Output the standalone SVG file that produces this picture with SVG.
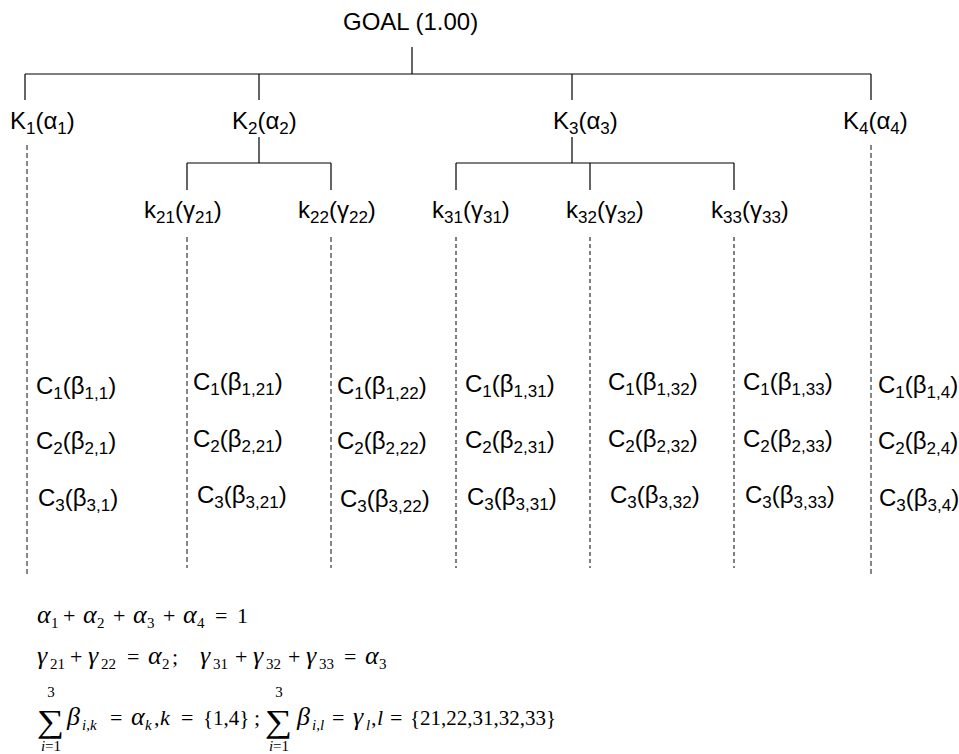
<svg xmlns="http://www.w3.org/2000/svg" width="959" height="754" viewBox="0 0 959 754">
<style>
.lbl{font-family:"Liberation Sans",Arial,sans-serif;font-size:24px;fill:#000}
.goal{font-family:"Liberation Sans",Arial,sans-serif;font-size:24px;fill:#000}
.s{font-size:17px}
.tree{stroke:#000;stroke-width:1.2;fill:none}
.dg{stroke:#555;stroke-width:1.4;stroke-dasharray:5,3;fill:none}
.dk{stroke:#000;stroke-width:1;stroke-dasharray:4,3;fill:none}
.m{font-family:"Liberation Serif","Times New Roman",serif;font-size:22px;fill:#000}
.g{font-style:italic;font-size:26px}
.i{font-style:italic}
.ms{font-size:15px}
.set{font-size:21px}
.sig{font-family:"Liberation Serif","Times New Roman",serif;font-size:32px;fill:#000}
</style>
<g id="connectors">
<path class="tree" d="M412,47 V74 M25,74 H871 M25,74 V100 M259,74 V100 M572,74 V100 M871,74 V100"/>
<path class="tree" d="M259,137 V163 M187,163 H331 M187,163 V190 M331,163 V190"/>
<path class="tree" d="M572,137 V163 M456,163 H734 M456,163 V190 M590,163 V190 M734,163 V190"/>
<path class="dg" d="M27,145 V575 M871,145 V575 M187,237 V568 M331,237 V568"/>
<path class="dk" d="M456,237 V568 M590,237 V568 M734,237 V568"/>
</g>
<g id="goal"><text class="goal" x="343" y="30">GOAL (1.00)</text></g>
<g id="K1"><text class="lbl" x="10" y="129">K<tspan class="s" dy="5">1</tspan><tspan dy="-5">(α</tspan><tspan class="s" dy="5">1</tspan><tspan dy="-5">)</tspan></text></g>
<g id="K2"><text class="lbl" x="232" y="129">K<tspan class="s" dy="5">2</tspan><tspan dy="-5">(α</tspan><tspan class="s" dy="5">2</tspan><tspan dy="-5">)</tspan></text></g>
<g id="K3"><text class="lbl" x="553" y="129">K<tspan class="s" dy="5">3</tspan><tspan dy="-5">(α</tspan><tspan class="s" dy="5">3</tspan><tspan dy="-5">)</tspan></text></g>
<g id="K4"><text class="lbl" x="843" y="129">K<tspan class="s" dy="5">4</tspan><tspan dy="-5">(α</tspan><tspan class="s" dy="5">4</tspan><tspan dy="-5">)</tspan></text></g>
<g id="k21"><text class="lbl" x="144" y="218">k<tspan class="s" dy="5">21</tspan><tspan dy="-5">(γ</tspan><tspan class="s" dy="5">21</tspan><tspan dy="-5">)</tspan></text></g>
<g id="k22"><text class="lbl" x="298" y="218">k<tspan class="s" dy="5">22</tspan><tspan dy="-5">(γ</tspan><tspan class="s" dy="5">22</tspan><tspan dy="-5">)</tspan></text></g>
<g id="k31"><text class="lbl" x="432" y="218">k<tspan class="s" dy="5">31</tspan><tspan dy="-5">(γ</tspan><tspan class="s" dy="5">31</tspan><tspan dy="-5">)</tspan></text></g>
<g id="k32"><text class="lbl" x="566" y="218">k<tspan class="s" dy="5">32</tspan><tspan dy="-5">(γ</tspan><tspan class="s" dy="5">32</tspan><tspan dy="-5">)</tspan></text></g>
<g id="k33"><text class="lbl" x="711" y="218">k<tspan class="s" dy="5">33</tspan><tspan dy="-5">(γ</tspan><tspan class="s" dy="5">33</tspan><tspan dy="-5">)</tspan></text></g>
<g id="C_1">
<text class="lbl" x="36" y="394">C<tspan class="s" dy="5">1</tspan><tspan dy="-5">(β</tspan><tspan class="s" dy="5">1,1</tspan><tspan dy="-5">)</tspan></text>
<text class="lbl" x="36" y="449">C<tspan class="s" dy="5">2</tspan><tspan dy="-5">(β</tspan><tspan class="s" dy="5">2,1</tspan><tspan dy="-5">)</tspan></text>
<text class="lbl" x="38" y="506">C<tspan class="s" dy="5">3</tspan><tspan dy="-5">(β</tspan><tspan class="s" dy="5">3,1</tspan><tspan dy="-5">)</tspan></text>
</g>
<g id="C_21">
<text class="lbl" x="193" y="390">C<tspan class="s" dy="5">1</tspan><tspan dy="-5">(β</tspan><tspan class="s" dy="5">1,21</tspan><tspan dy="-5">)</tspan></text>
<text class="lbl" x="193" y="447">C<tspan class="s" dy="5">2</tspan><tspan dy="-5">(β</tspan><tspan class="s" dy="5">2,21</tspan><tspan dy="-5">)</tspan></text>
<text class="lbl" x="197" y="503">C<tspan class="s" dy="5">3</tspan><tspan dy="-5">(β</tspan><tspan class="s" dy="5">3,21</tspan><tspan dy="-5">)</tspan></text>
</g>
<g id="C_22">
<text class="lbl" x="337" y="394">C<tspan class="s" dy="5">1</tspan><tspan dy="-5">(β</tspan><tspan class="s" dy="5">1,22</tspan><tspan dy="-5">)</tspan></text>
<text class="lbl" x="337" y="449">C<tspan class="s" dy="5">2</tspan><tspan dy="-5">(β</tspan><tspan class="s" dy="5">2,22</tspan><tspan dy="-5">)</tspan></text>
<text class="lbl" x="340" y="507">C<tspan class="s" dy="5">3</tspan><tspan dy="-5">(β</tspan><tspan class="s" dy="5">3,22</tspan><tspan dy="-5">)</tspan></text>
</g>
<g id="C_31">
<text class="lbl" x="465" y="392">C<tspan class="s" dy="5">1</tspan><tspan dy="-5">(β</tspan><tspan class="s" dy="5">1,31</tspan><tspan dy="-5">)</tspan></text>
<text class="lbl" x="465" y="448">C<tspan class="s" dy="5">2</tspan><tspan dy="-5">(β</tspan><tspan class="s" dy="5">2,31</tspan><tspan dy="-5">)</tspan></text>
<text class="lbl" x="467" y="505">C<tspan class="s" dy="5">3</tspan><tspan dy="-5">(β</tspan><tspan class="s" dy="5">3,31</tspan><tspan dy="-5">)</tspan></text>
</g>
<g id="C_32">
<text class="lbl" x="608" y="390">C<tspan class="s" dy="5">1</tspan><tspan dy="-5">(β</tspan><tspan class="s" dy="5">1,32</tspan><tspan dy="-5">)</tspan></text>
<text class="lbl" x="608" y="447">C<tspan class="s" dy="5">2</tspan><tspan dy="-5">(β</tspan><tspan class="s" dy="5">2,32</tspan><tspan dy="-5">)</tspan></text>
<text class="lbl" x="610" y="503">C<tspan class="s" dy="5">3</tspan><tspan dy="-5">(β</tspan><tspan class="s" dy="5">3,32</tspan><tspan dy="-5">)</tspan></text>
</g>
<g id="C_33">
<text class="lbl" x="743" y="390">C<tspan class="s" dy="5">1</tspan><tspan dy="-5">(β</tspan><tspan class="s" dy="5">1,33</tspan><tspan dy="-5">)</tspan></text>
<text class="lbl" x="743" y="447">C<tspan class="s" dy="5">2</tspan><tspan dy="-5">(β</tspan><tspan class="s" dy="5">2,33</tspan><tspan dy="-5">)</tspan></text>
<text class="lbl" x="745" y="503">C<tspan class="s" dy="5">3</tspan><tspan dy="-5">(β</tspan><tspan class="s" dy="5">3,33</tspan><tspan dy="-5">)</tspan></text>
</g>
<g id="C_4">
<text class="lbl" x="878" y="393">C<tspan class="s" dy="5">1</tspan><tspan dy="-5">(β</tspan><tspan class="s" dy="5">1,4</tspan><tspan dy="-5">)</tspan></text>
<text class="lbl" x="878" y="449">C<tspan class="s" dy="5">2</tspan><tspan dy="-5">(β</tspan><tspan class="s" dy="5">2,4</tspan><tspan dy="-5">)</tspan></text>
<text class="lbl" x="879" y="506">C<tspan class="s" dy="5">3</tspan><tspan dy="-5">(β</tspan><tspan class="s" dy="5">3,4</tspan><tspan dy="-5">)</tspan></text>
</g>
<g id="formulas">
<text class="m"><tspan class="g" x="37" y="623">α</tspan><tspan class="ms" x="51" y="628">1</tspan><tspan x="63" y="623">+</tspan><tspan class="g" x="83" y="623">α</tspan><tspan class="ms" x="97" y="628">2</tspan><tspan x="113" y="623">+</tspan><tspan class="g" x="133" y="623">α</tspan><tspan class="ms" x="147" y="628">3</tspan><tspan x="163" y="623">+</tspan><tspan class="g" x="183" y="623">α</tspan><tspan class="ms" x="197" y="628">4</tspan><tspan x="215" y="623">=</tspan><tspan x="237" y="623">1</tspan></text>
<text class="m"><tspan class="g" x="37" y="664">γ</tspan><tspan class="ms" x="50" y="669">21</tspan><tspan x="70" y="664">+</tspan><tspan class="g" x="88" y="664">γ</tspan><tspan class="ms" x="101" y="669">22</tspan><tspan x="127" y="664">=</tspan><tspan class="g" x="148" y="664">α</tspan><tspan class="ms" x="162" y="669">2</tspan><tspan x="172" y="664">;</tspan><tspan class="g" x="200" y="664">γ</tspan><tspan class="ms" x="213" y="669">31</tspan><tspan x="235" y="664">+</tspan><tspan class="g" x="253" y="664">γ</tspan><tspan class="ms" x="266" y="669">32</tspan><tspan x="288" y="664">+</tspan><tspan class="g" x="306" y="664">γ</tspan><tspan class="ms" x="319" y="669">33</tspan><tspan x="344" y="664">=</tspan><tspan class="g" x="365" y="664">α</tspan><tspan class="ms" x="379" y="669">3</tspan></text>
<text class="sig" transform="translate(37,732) scale(1.2,1)">∑</text>
<text class="m ms" x="51" y="697" text-anchor="middle">3</text>
<text class="m ms" x="51" y="751" text-anchor="middle"><tspan class="i">i</tspan>=1</text>
<text class="m"><tspan class="g" x="67" y="725">β</tspan><tspan class="ms" x="82" y="730"><tspan class="i">i</tspan>,<tspan class="i">k</tspan></tspan><tspan x="110" y="725">=</tspan><tspan class="g" x="131" y="725">α</tspan><tspan class="ms i" x="145" y="730">k</tspan><tspan x="154" y="725">,</tspan><tspan class="i" x="160" y="725">k</tspan><tspan x="181" y="725">=</tspan><tspan class="set" x="203" y="725">{1,4}</tspan><tspan x="254" y="725">;</tspan></text>
<text class="sig" transform="translate(265,732) scale(1.2,1)">∑</text>
<text class="m ms" x="279" y="697" text-anchor="middle">3</text>
<text class="m ms" x="279" y="751" text-anchor="middle"><tspan class="i">i</tspan>=1</text>
<text class="m"><tspan class="g" x="297" y="725">β</tspan><tspan class="ms" x="312" y="730"><tspan class="i">i</tspan>,<tspan class="i">l</tspan></tspan><tspan x="332" y="725">=</tspan><tspan class="g" x="353" y="725">γ</tspan><tspan class="ms i" x="366" y="730">l</tspan><tspan x="371" y="725">,</tspan><tspan class="i" x="377" y="725">l</tspan><tspan x="390" y="725">=</tspan><tspan class="set" x="410" y="725">{21,22,31,32,33}</tspan></text>
</g>
</svg>
